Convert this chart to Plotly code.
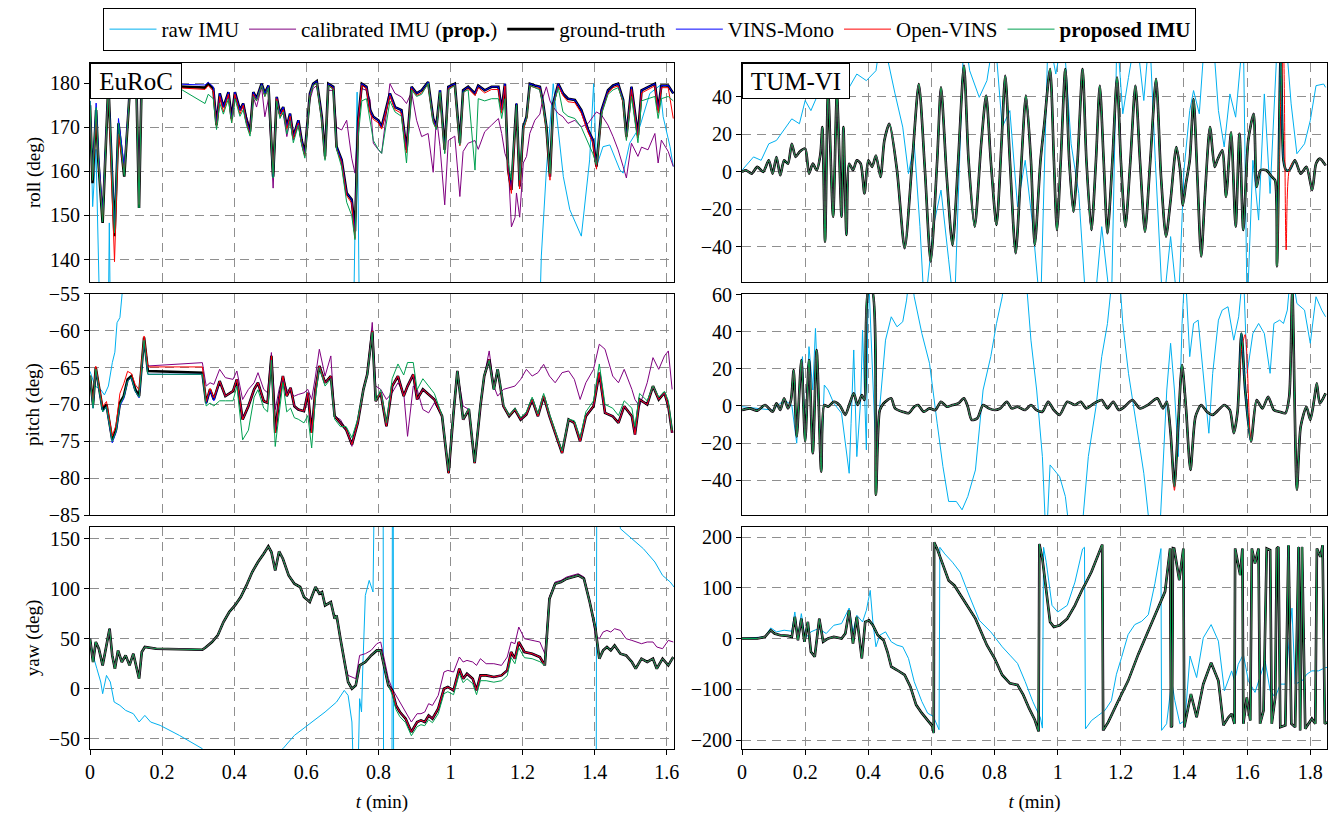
import plotly.graph_objects as go

# ---------------- EuRoC roll ----------------
t_roll_eu = [0, 0.007, 0.017, 0.023, 0.035, 0.051, 0.068, 0.079, 0.095, 0.111,
             0.129, 0.136, 0.143, 0.152, 0.2, 0.245, 0.319, 0.328, 0.342, 0.351,
             0.360, 0.370, 0.384, 0.393, 0.402, 0.416, 0.425, 0.434, 0.444, 0.453,
             0.462, 0.476, 0.485, 0.495, 0.508, 0.518, 0.527, 0.536, 0.546, 0.555,
             0.564, 0.578, 0.587, 0.596, 0.610, 0.619, 0.629, 0.643, 0.652, 0.661,
             0.675, 0.684, 0.698, 0.712, 0.726, 0.735, 0.744, 0.754, 0.767, 0.777,
             0.786, 0.800, 0.809, 0.832, 0.846, 0.864, 0.878, 0.892, 0.906, 0.920,
             0.938, 0.952, 0.961, 0.971, 0.984, 0.994, 1.012, 1.026, 1.035, 1.049,
             1.068, 1.077, 1.095, 1.114, 1.133, 1.142, 1.151, 1.160, 1.169, 1.179,
             1.183, 1.192, 1.202, 1.211, 1.220, 1.234, 1.248, 1.257, 1.266, 1.276,
             1.285, 1.299, 1.312, 1.326, 1.345, 1.363, 1.382, 1.395, 1.405, 1.419,
             1.437, 1.451, 1.465, 1.479, 1.488, 1.502, 1.520, 1.530, 1.548, 1.567,
             1.576, 1.585, 1.604, 1.618]
gt_roll_eu = [175, 157.3, 173.9, 162.6, 148.3, 179.9, 145.3, 170.9, 158.8, 179.2,
              178.4, 151.7, 179.5, 178.8, 179.4, 179.3, 179.0, 179.9, 178.8, 170.5,
              177.7, 174.6, 178.0, 172.0, 178.0, 173.9, 175.4, 171.6, 169.0, 178.0,
              176.5, 179.9, 177.7, 179.5, 158.8, 176.9, 173.1, 174.6, 170.1, 173.1,
              167.9, 171.6, 167.1, 164.1, 177.7, 179.9, 180.5, 172.4, 163.4, 179.9,
              179.2, 165.6, 162.6, 155.1, 153.6, 146.4, 171.6, 179.9, 179.2, 173.9,
              172.4, 171.6, 170.1, 177.7, 174.6, 173.9, 164.9, 179.2, 177.7, 178.4,
              180.3, 172.0, 170.1, 178.4, 164.9, 179.2, 179.9, 166.4, 178.4, 179.2,
              177.7, 179.5, 178.4, 179.2, 179.2, 173.9, 179.9, 160.3, 155.8, 170.1,
              175.4, 156.6, 170.1, 172.4, 179.9, 179.5, 179.2, 175.4, 170.1, 158.8,
              175.4, 179.9, 177.7, 176.5, 176.2, 173.9, 169.4, 167.1, 161.1, 173.9,
              178.4, 179.5, 179.9, 176.2, 167.9, 179.2, 168.2, 178.4, 179.2, 179.9,
              173.9, 179.5, 179.5, 177.7]
vins_roll_eu = [176, 159, 175.5, 164.5, 150.5, 179.9, 147, 172, 161, 179.5,
                178.8, 153, 179.8, 179.2, 179.8, 179.8, 179.6, 180.2, 179.2, 171] + gt_roll_eu[20:]
ov_roll_eu = [174, 158, 172.5, 163, 149, 179.5, 139.5, 168.5, 159.5, 178.8,
              178, 152.5, 179, 178.5, 179.2, 179.0, 178.6, 179.5, 178.2, 170,
              177, 173.5, 177.5, 171, 177.5, 173, 175, 171, 168.5, 177.5,
              176, 179.5, 177, 179, 159.5, 176.5, 172.5, 174, 169.5, 172.5,
              167.5, 171, 166.5, 163.5, 177.2, 179.5, 180, 171.8, 162.8, 179.5,
              178.8, 165, 162, 154.5, 152.8, 144.8, 171, 179.5, 178.8, 173.2,
              171.8, 171, 169.6, 177.2, 174, 173.2, 164.2, 178.8, 177.2, 177.8,
              179.8, 171.4, 169.6, 177.8, 164.2, 178.8, 179.5, 165.8, 177.8, 178.8,
              177.2, 179, 177.8, 178.6, 178.6, 173.2, 179.4, 159.6, 155, 169.5,
              174.8, 156, 169.5, 171.8, 179.4, 179, 178.8, 174.8, 169.5, 158,
              174.8, 179.4, 177.2, 175.8, 175.6, 173.2, 168.8, 166.5, 160.5, 173.2,
              177.8, 179, 179.4, 175.6, 167.2, 178.6, 167.6, 177.8, 178.6, 179.4,
              173.2, 179, 179, 172]
prop_roll_eu = [176, 158, 174.5, 163, 148.5, 179.5, 146, 171, 159, 179,
                178, 151.7, 179, 178.5, 178.5, 179.0, 175.4, 177.5, 176.5, 169.5,
                175.5, 173, 176.5, 171, 176.5, 172.5, 174, 170.5, 168, 177,
                176, 179.5, 177, 179, 158.5, 176, 172, 173.5, 168.5, 171.5,
                166.5, 170.5, 166, 163, 177, 179.5, 180, 171.5, 162.5, 179.5,
                178.5, 165, 161, 153, 150, 144.5, 168, 176, 176.5, 171,
                167, 165, 164.1, 176, 173.5, 172.5, 161.9, 178.5, 177, 177.5,
                180, 171, 169.5, 178, 164, 178.5, 179.5, 166, 178, 178.5,
                160.3, 176.5, 176, 176.5, 176.5, 172, 176.5, 162, 158, 170,
                175, 158, 170, 172, 179.5, 179, 178.5, 175, 170, 159.5,
                175, 179, 173.5, 172.5, 172, 170, 166.5, 164, 161.5, 173,
                177.5, 178.5, 179, 176, 167, 177, 166.5, 176, 176.5, 177,
                172, 176.5, 177, 176]
calib_roll_eu = [175, 157.5, 174, 162.5, 148.5, 179.5, 145.5, 171, 159, 179,
                 178.4, 151.7, 179.5, 178.8, 179.4, 179.3, 179.0, 179.9, 178.8, 170.5,
                 177.7, 174.6, 178.0, 172.0, 178.0, 173.9, 175.4, 172.5, 170, 176.9,
                 174.6, 179.2, 172.4, 176.5, 156.2, 175.4, 172.4, 173.1, 167.9, 171.6,
                 167.1, 170.9, 166.4, 163.4, 176.2, 178.8, 179.5, 172.4, 165, 178.4,
                 178.4, 170, 169.4, 171.6, 163, 159.6, 172, 178.8, 178.4, 176.2,
                 166.4, 164.9, 164.1, 179.9, 177.7, 176.9, 175.4, 178.0, 171.6, 167.9,
                 168.6, 159.8, 172.4, 165.6, 152.4, 167, 168, 154.3, 164.5, 166.4,
                 167, 165, 169, 170.5, 172, 168.6, 164.1, 162, 147.4, 149.5,
                 155.1, 149.6, 161.9, 163.4, 168.6, 171.6, 173, 176.9, 179.2, 176,
                 174.6, 173.1, 172.4, 170.9, 171.6, 170.1, 170.9, 172.4, 173.5, 172.8,
                 170.5, 167.9, 164.9, 161.1, 158.5, 166.4, 163.4, 165.5, 164.9, 168.6,
                 161.9, 167.1, 164.5, 161.1]
t_raw_roll_eu = [0, 0.0074, 0.0166, 0.029, 0.05, 0.0536, 0.0573, 0.73, 0.741, 0.748,
                 1.245, 1.252, 1.266, 1.285, 1.304, 1.313, 1.331, 1.363, 1.386, 1.397,
                 1.405, 1.423, 1.442, 1.470, 1.479, 1.497, 1.525, 1.553, 1.581, 1.590,
                 1.609, 1.618]
raw_roll_eu = [176, 152, 165, 120, 120, 148.3, 120, 120, 178, 120,
               120, 140.8, 160.3, 179.9, 166.4, 158.8, 151.3, 145.3, 162.6, 179.9,
               161.1, 165.6, 166, 160.3, 159.6, 166.4, 170.1, 177.7, 179.5, 172.4,
               165.6, 161.1]

# ---------------- EuRoC pitch ----------------
t_pitch_eu = [0, 0.0085, 0.016, 0.0245, 0.0351, 0.0457, 0.0617, 0.0723, 0.083, 0.0936,
              0.1043, 0.1149, 0.1255, 0.1362, 0.15, 0.1606, 0.3117, 0.3223, 0.333, 0.3436,
              0.3596, 0.3755, 0.3968, 0.4074, 0.4234, 0.4394, 0.4553, 0.466, 0.4819, 0.4926,
              0.5032, 0.5138, 0.5245, 0.5351, 0.5457, 0.5564, 0.567, 0.5777, 0.5936, 0.6043,
              0.6149, 0.6255, 0.6362, 0.6521, 0.6681, 0.6787, 0.6947, 0.7106, 0.7266, 0.7426,
              0.7585, 0.7691, 0.783, 0.7926, 0.8064, 0.8223, 0.8383, 0.8543, 0.8702, 0.8809,
              0.8968, 0.9074, 0.9234, 0.9394, 0.9553, 0.9766, 0.9947, 1.0085, 1.0191, 1.0351,
              1.0511, 1.067, 1.083, 1.0936, 1.1074, 1.1202, 1.1309, 1.1468, 1.1628, 1.1787,
              1.1947, 1.2106, 1.2266, 1.2426, 1.2585, 1.2745, 1.2904, 1.3096, 1.3277, 1.3436,
              1.3596, 1.3755, 1.3968, 1.4128, 1.4287, 1.45, 1.466, 1.4819, 1.5032, 1.5117,
              1.5245, 1.5457, 1.5617, 1.5777, 1.5936, 1.6043, 1.6149]
gt_pitch_eu = [-66.14, -70, -65, -67.5, -70.68, -70, -74.77, -73.41, -69.77, -68.86,
               -66.59, -66.14, -67.95, -68.86, -60.91, -65.45, -65.68, -69.77, -67.95, -69.32,
               -66.82, -68.86, -68.18, -66.59, -72.05, -70.23, -67.95, -67.05, -69.55, -69.77,
               -63.41, -73.86, -69.32, -66.14, -68.86, -67.73, -70.23, -70.68, -70.91, -68.41,
               -73.86, -67.95, -64.77, -67.05, -66.14, -71.59, -72.5, -73.41, -75.45, -72.5,
               -67.95, -65.91, -60, -69.55, -68.41, -72.95, -67.5, -66.14, -68.86, -67.5,
               -65.91, -69.32, -67.95, -68.64, -69.32, -71.59, -79.32, -71.14, -65.45, -72.05,
               -70.68, -77.95, -70.23, -66.14, -63.86, -67.95, -65.23, -70.23, -71.59, -70.68,
               -72.05, -71.36, -69.32, -71.59, -68.86, -71.59, -73.86, -76.59, -72.05, -72.5,
               -75, -71.59, -70.23, -65.68, -71.14, -71.59, -72.5, -70.23, -71.59, -74.09,
               -69.32, -70, -67.5, -69.32, -68.41, -70.23, -73.86]
vins_pitch_eu = [-66.3, -70.5, -65.2, -67.8, -71, -70.3, -75.2, -73.8, -70.2, -69.2,
                 -66.8, -66.4, -68.2, -69.1, -61.2, -65.9, -65.9, -69.9, -68.1, -69.5] + gt_pitch_eu[20:]
ov_pitch_eu = [-66, -69.8, -64.8, -67.2, -70.3, -69.6, -74.3, -72.8, -68.5, -67.2,
               -65.5, -65.8, -67.3, -68, -60.7, -64.9, -64.9, -69.6, -67.8, -69.1] + gt_pitch_eu[20:]
prop_pitch_eu = [-66, -70.5, -65.2, -67.7, -71, -70.3, -75, -73.6, -70, -69,
                 -66.8, -66.3, -68.2, -69, -61.3, -65.9, -65.9, -70.2, -69.8, -70.2,
                 -69.5, -69.5, -69.5, -67.5, -74.8, -73.5, -69, -68, -70.5, -71,
                 -64, -75.7, -71, -67, -71, -70.5, -71.8, -72, -72.5, -71.5,
                 -75.9, -69, -65, -67.5, -66.5, -72, -73, -73, -74.5, -72,
                 -68, -66, -60.2, -69.5, -68, -72.5, -66.5, -64.5, -66, -64.3,
                 -64.3, -68, -66.5, -67.5, -68.5, -71.5, -79, -71, -65.5, -72,
                 -70.5, -77.8, -70, -66, -64, -68, -65.2, -70, -71.5, -70.5,
                 -71.8, -71, -69, -71.3, -68.5, -71.3, -73.5, -76.3, -72, -72.2,
                 -74.5, -71, -69.5, -64.5, -70, -70.5, -71.5, -69.5, -70.5, -73,
                 -68.5, -69.5, -67.5, -69, -68.2, -69.5, -73.5]
calib_pitch_eu = [-66.14, -70, -65, -67.5, -70.68, -70, -74.77, -73.41, -69.77, -68.86,
                  -66.59, -66.14, -67.95, -68.86, -60.91, -64.77, -64.32, -67.5, -67.05, -67.27,
                  -65.23, -66.36, -66.59, -65.45, -69.32, -67.95, -67.05, -65.68, -67.95, -68.41,
                  -62.95, -70.68, -67.95, -66.14, -67.95, -68.41, -68.86, -68.64, -68.41, -67.95,
                  -69.32, -66.14, -62.5, -66.14, -63.41, -71.59, -72.05, -73.41, -75.68, -72.27,
                  -67.95, -65.91, -58.86, -67.5, -67.95, -69.32, -68.41, -67.05, -68.41, -74.32,
                  -67.5, -67.95, -70.68, -71.14, -69.77, -71.59, -78.86, -70.68, -65.68, -70.23,
                  -70.68, -77.5, -69.77, -66.14, -62.73, -67.5, -68.86, -67.95, -67.73, -67.5,
                  -66.59, -65.23, -66.14, -65.68, -64.55, -66.14, -67.05, -65.68, -65.45, -66.59,
                  -69.32, -67.05, -65.23, -61.82, -62.5, -66.14, -67.05, -65.23, -67.95, -69.32,
                  -70.23, -67.05, -63.64, -65.23, -63.41, -62.73, -67.95]
t_raw_pitch_eu = [0, 0.014, 0.030, 0.040, 0.051, 0.062, 0.069, 0.075, 0.083, 0.090, 0.10, 1.62]
raw_pitch_eu = [-65.5, -67.5, -68, -68.7, -67.5, -64.3, -62.9, -58.9, -58.2, -54.5, -40, -40]

# ---------------- EuRoC yaw ----------------
t_yaw_eu = [0, 0.0085, 0.016, 0.0245, 0.0351, 0.0436, 0.0543, 0.0617, 0.0691, 0.0777,
            0.0883, 0.0989, 0.1096, 0.1202, 0.1309, 0.1362, 0.1436, 0.1521, 0.184, 0.3117,
            0.3223, 0.3383, 0.3543, 0.3702, 0.3862, 0.4021, 0.4181, 0.434, 0.45, 0.466,
            0.4819, 0.4947, 0.5032, 0.5138, 0.5245, 0.5351, 0.5511, 0.567, 0.583, 0.5936,
            0.6096, 0.6255, 0.6362, 0.6436, 0.6521, 0.6681, 0.6787, 0.684, 0.6947, 0.7053,
            0.716, 0.7266, 0.7372, 0.7479, 0.7638, 0.7798, 0.7957, 0.8064, 0.817, 0.8277,
            0.8383, 0.8489, 0.8596, 0.8755, 0.8915, 0.9074, 0.9181, 0.9287, 0.9394, 0.95,
            0.966, 0.9819, 0.9926, 1.0085, 1.0245, 1.0351, 1.0457, 1.0617, 1.0723, 1.083,
            1.0989, 1.1202, 1.1415, 1.1574, 1.1681, 1.1787, 1.1894, 1.2053, 1.2266, 1.2479,
            1.2617, 1.2745, 1.2904, 1.3064, 1.3223, 1.3383, 1.3543, 1.3702, 1.3862, 1.4021,
            1.4128, 1.4234, 1.434, 1.4447, 1.4553, 1.4713, 1.4872, 1.5032, 1.5138, 1.5298,
            1.5457, 1.5617, 1.5723, 1.5883, 1.6043, 1.6181]
gt_yaw_eu = [50, 26.7, 46.7, 40, 23.3, 40, 60, 33.3, 20, 38.3,
             26.7, 33.3, 23.3, 35, 20, 10, 36.7, 41.7, 40, 39,
             41.7, 46.7, 53.3, 66.7, 76.7, 83.3, 91.7, 103.3, 116.7, 126.7,
             135, 142.3, 136.7, 118.3, 137.3, 130, 113.3, 105, 101.7, 91.7,
             86.7, 101.7, 95, 96.7, 83.3, 86.7, 70, 73.3, 50, 26.7,
             6.7, 0, 3.3, 23.3, 26.7, 33.3, 38.3, 38.3, 20, 3.3,
             -1.7, -16.7, -23.3, -30, -43.3, -33.3, -31.7, -33.3, -26.7, -30,
             -20, 0, 1.7, -1.7, 20, 10, 15, 10, -1.7, 13.3,
             13.3, 11.7, 13.3, 18.3, 36.7, 30, 46.7, 36.7, 35, 31.7,
             23.3, 90, 105, 106.7, 110, 111.7, 113.3, 110, 86.7, 60,
             30, 38.3, 41.7, 38.3, 43.3, 35, 33.3, 26.7, 20, 30,
             26.7, 30, 20, 30, 23.3, 31.7]
vins_yaw_eu = list(gt_yaw_eu)
ov_yaw_eu = list(gt_yaw_eu)
prop_yaw_eu = gt_yaw_eu[:60] + [-6, -21, -28, -34, -47, -38, -36, -37, -31, -34,
                                -25, -5, -3, -6, 15, 6, 10, 5, -6, 8,
                                8, 6.5, 8, 13, 31, 25, 41, 31, 30, 27] + gt_yaw_eu[90:]
calib_yaw_eu = gt_yaw_eu[:50] + [13.3, 11.7, 10, 33.3, 35, 38.3, 45, 46.7, 26.7, 10,
                                 0, -6.7, -13.3, -23.3, -33.3, -25, -25, -23.3, -15, -16.7,
                                 -6.7, 16.7, 18.3, 16.7, 31.7, 26.7, 28.3, 26.7, 23.3, 30,
                                 25, 25, 23.3, 31.7, 46.7, 45, 61.7, 50, 48.3, 46.7,
                                 35, 91.7, 106.7, 108.3, 111.7, 113.3, 115, 111.7, 88.3, 53.3,
                                 50, 56.7, 58.3, 56.7, 60, 58.3, 50, 48.3, 46.7, 45,
                                 46.7, 46.7, 41.7, 40, 48.3, 46.7]
t_raw_yaw_eu = [0, 0.0085, 0.0191, 0.0298, 0.0351, 0.0457, 0.0564, 0.067, 0.083, 0.0989,
                0.1202, 0.1362, 0.1521, 0.1681, 0.1947, 0.2479, 0.3117, 0.3968, 0.5351, 0.567,
                0.6096, 0.6521, 0.684, 0.7053, 0.716, 0.7266, 0.7319, 0.7426, 0.7479, 0.7532,
                0.7564, 0.7638, 0.7745, 0.7851, 0.7904, 0.813, 0.8145, 0.8375, 0.839, 0.841,
                0.8425, 1.404, 1.406, 1.45, 1.4713, 1.5032, 1.5351, 1.567, 1.5883, 1.6096,
                1.62]
raw_yaw_eu = [50, 33.3, 20, 6.7, -5, 13.3, 6.7, -13.3, -16.7, -21.7,
              -25, -33.3, -26.7, -33.3, -36.7, -46.7, -60, -100, -60, -46.7,
              -35, -23.3, -13.3, -1.7, -6.7, -33.3, -100, -100, -10, -23.3,
              16.7, 93.3, 108.3, 96.7, 250, 250, -150, -150, 250, 250,
              -150, -150, 250, 250, 160, 150, 140, 126.7, 113.3, 106.7,
              101.7]

# ---------------- TUM-VI roll ----------------
t_roll_tum = [0, 0.0121, 0.0303, 0.0485, 0.0667, 0.0848, 0.097, 0.1091, 0.1212, 0.1333,
              0.1455, 0.1576, 0.1697, 0.1818, 0.2, 0.2121, 0.2242, 0.2364, 0.2485, 0.2545,
              0.263, 0.2727, 0.2885, 0.3006, 0.3152, 0.3212, 0.3309, 0.3394, 0.3515, 0.3636,
              0.3758, 0.3879, 0.4, 0.4121, 0.4242, 0.4388, 0.4509, 0.4667, 0.4909, 0.5152,
              0.5394, 0.56, 0.5794, 0.5976, 0.6182, 0.6303, 0.6485, 0.6667, 0.6848, 0.703,
              0.7176, 0.737, 0.7576, 0.7733, 0.7879, 0.8061, 0.8218, 0.8339, 0.8485, 0.8667,
              0.8824, 0.8994, 0.9152, 0.9273, 0.9455, 0.9576, 0.9758, 0.9879, 0.9976, 1.0097,
              1.0242, 1.0364, 1.0497, 1.063, 1.0788, 1.0909, 1.1067, 1.1212, 1.1333, 1.1455,
              1.1576, 1.1733, 1.1879, 1.2, 1.2145, 1.2303, 1.2461, 1.2606, 1.2764, 1.2933,
              1.3115, 1.3273, 1.343, 1.3576, 1.3758, 1.3879, 1.3964, 1.4061, 1.4182, 1.4303,
              1.4424, 1.4545, 1.4667, 1.4824, 1.497, 1.5055, 1.5212, 1.5333, 1.5491, 1.5636,
              1.5758, 1.5879, 1.6036, 1.6206, 1.6303, 1.6424, 1.6606, 1.6788, 1.6885, 1.6945,
              1.7067, 1.7152, 1.7236, 1.7333, 1.7515, 1.7697, 1.7879, 1.8061, 1.8182, 1.8303,
              1.8485]
gt_roll_tum = [0, 0.9, -0.9, 2.7, 0, 6.2, -0.9, 8, -1.8, 6.2,
               4.4, 15, 8, 10.6, 12.4, -0.9, 4.4, 0.9, 9.7, 23.9,
               -37.2, 43.4, -23.9, 41.6, -23.9, 23.9, -33.6, 4.4, 0.9, 6.2,
               4.4, -11.5, 6.2, 2.7, 8.8, -2.7, 16.8, 25.7, 0.9, -40.7,
               6.2, 46.9, 0.9, -47.8, 6.2, 45.1, -2.7, -38.9, 6.2, 56.6,
               6.2, -29.2, 15, 40.7, 6.2, -28.3, 15, 51.3, 6.2, -43.4,
               -2.7, 40.7, 6.2, -38.9, 6.2, 25.7, 54.9, 6.2, -31, 6.2,
               54.9, 6.2, -21.2, 6.2, 54.9, 6.2, -31, 6.2, 46, 6.2,
               -32.7, 6.2, 50.4, 6.2, -29.2, 6.2, 46, 6.2, -31.9, 6.2,
               49.6, -2.7, -34.5, -15, 13.3, 0.9, -17.7, -6.2, 6.2, 38.9,
               -2.7, -45.1, -11.5, 23.9, 2.7, 6.2, 11.5, -13.3, 21.2, -29.2,
               20.4, -31, 16.8, 31, -8, 0.9, 0.9, -2.7, -4.4, -50.4,
               65, 6.2, 0.9, 0.9, 6.2, -0.9, 2.7, -9.7, 4.4, 7.1,
               3.5]
vins_roll_tum = list(gt_roll_tum)
ov_roll_tum = gt_roll_tum[:120] + [40, 65, -41.6] + gt_roll_tum[123:]
prop_roll_tum = list(gt_roll_tum)
t_raw_roll_tum = [0, 0.0364, 0.0606, 0.0848, 0.1091, 0.1273, 0.1576, 0.1818, 0.2, 0.2182,
                  0.2364, 0.2545, 0.2788, 0.303, 0.3394, 0.3636, 0.3939, 0.4242, 0.4424, 0.4848,
                  0.5091, 0.5273, 0.5455, 0.5636, 0.5782, 0.6061, 0.6303, 0.6545, 0.6727, 0.703,
                  0.7212, 0.7515, 0.7758, 0.8, 0.8242, 0.8485, 0.8727, 0.897, 0.9212, 0.9455,
                  0.9697, 0.9939, 1.0182, 1.0424, 1.0667, 1.0909, 1.1152, 1.1394, 1.1697, 1.1879,
                  1.2061, 1.2242, 1.2485, 1.2727, 1.2909, 1.3091, 1.3333, 1.3576, 1.3818, 1.4,
                  1.4182, 1.4303, 1.4485, 1.4667, 1.4909, 1.5091, 1.5273, 1.5455, 1.5636, 1.5879,
                  1.6, 1.6182, 1.6364, 1.6545, 1.6727, 1.697, 1.7212, 1.7394, 1.7576, 1.7818,
                  1.8, 1.8182, 1.8424, 1.8485]
raw_roll_tum = [0.9, 8, 6.2, 15, 16.8, 21.2, 28.3, 25.7, 38.1, 32.7,
                39.8, 48.7, 54, 75, 45.1, 52.2, 48.7, 54, 75, 41.6,
                23.9, -0.9, 15, -29.2, -75, -29.2, -9.7, -46.9, -75, 75,
                54, 39.8, 48.7, 75, 23.9, 32.7, -18.6, 6.2, -29.2, -75,
                75, 52.2, 75, 15, -11.5, -75, -75, -29.2, -75, 75,
                31, 50.4, 75, 38.1, 75, 6.2, -75, -34.5, -75, 0.9,
                32.7, 43.4, 31, 75, 75, 32.7, 13.3, 41.6, 29.2, 75,
                -75, 6.2, -25.7, 41.6, -11.5, 75, 75, 36.3, 9.7, 15,
                27.4, 46, 46.9, 45.1]

# ---------------- TUM-VI pitch ----------------
t_pitch_tum = [0, 0.0242, 0.0485, 0.0727, 0.097, 0.1091, 0.1212, 0.1333, 0.1455, 0.1552,
               0.1636, 0.1733, 0.1879, 0.2, 0.2121, 0.2242, 0.2364, 0.2509, 0.2606, 0.2727,
               0.2909, 0.3091, 0.3273, 0.3394, 0.3539, 0.3661, 0.3794, 0.3879, 0.4, 0.4121,
               0.4242, 0.4364, 0.4485, 0.4606, 0.4727, 0.4848, 0.5091, 0.5273, 0.5455, 0.5576,
               0.5758, 0.5939, 0.6121, 0.6303, 0.6485, 0.6667, 0.6848, 0.703, 0.7152, 0.7273,
               0.7455, 0.7636, 0.7818, 0.8, 0.8182, 0.8388, 0.8545, 0.8727, 0.897, 0.9152,
               0.9333, 0.9515, 0.9697, 0.9879, 1.0061, 1.0303, 1.0545, 1.0727, 1.0909, 1.1152,
               1.1394, 1.1576, 1.1758, 1.1939, 1.2121, 1.2364, 1.2606, 1.2848, 1.3152, 1.3333,
               1.3455, 1.3576, 1.3697, 1.3818, 1.3939, 1.4061, 1.4206, 1.4364, 1.4545, 1.4727,
               1.4909, 1.5091, 1.5273, 1.5455, 1.5576, 1.5697, 1.5818, 1.5939, 1.6121, 1.6303,
               1.6485, 1.6667, 1.6848, 1.703, 1.7212, 1.7333, 1.743, 1.7576, 1.7697, 1.7879,
               1.8, 1.8121, 1.8206, 1.8303, 1.8485]
gt_pitch_tum = [-2.2, -1.3, -2.5, 0.5, -3.1, 1.4, -2.2, 4.1, -1.3, 3.2,
                19.4, -16.5, 24.8, -19.2, 24.8, -25.5, 30.2, -35.4, 0.5, -0.4,
                2.3, 0.5, -4.8, 0.5, 6.8, 0.5, 5.9, 3.2, 62, 62,
                -47.9, -2.2, 1.4, 3.2, 4.1, -1.3, -3.1, -3.9, -0.4, 0.5,
                -3.1, -1.3, -2.2, 2.3, -0.4, 0.5, 1.4, 4.1, -0.4, -7.5,
                -6.6, 0.5, -1.3, -2.2, -1.3, 2.3, -1.3, -0.4, -2.2, 0.5,
                -2.2, -3.1, 2.3, -2.2, -4.8, 2.3, 0.5, 2.3, -1.3, 1.4,
                3.2, -1.3, 2.3, -2.2, -0.4, 3.2, -1.3, 0.5, 4.1, -1.3,
                2.3, -14.7, -43.4, -9.3, 22.1, -0.4, -34.5, -5.7, 0.5, -3.1,
                -4.8, -2.2, 0.5, -2.2, -14.7, -3.1, 39.1, 8.6, -19.2, 3.2,
                -1.3, 5, -2.2, -3.1, -3.9, 5, 62, -45.2, -11.1, -0.4,
                -7.5, 3.2, 12.2, 1.4, 6.8]
vins_pitch_tum = list(gt_pitch_tum)
ov_pitch_tum = gt_pitch_tum[:82] + [-45.5] + gt_pitch_tum[83:96] + [30, 38.5] + gt_pitch_tum[98:]
prop_pitch_tum = list(gt_pitch_tum)
t_raw_pitch_tum = [0, 0.097, 0.1333, 0.1576, 0.1733, 0.1818, 0.1915, 0.2, 0.2121, 0.2242,
                   0.2327, 0.2424, 0.2521, 0.2606, 0.2727, 0.2909, 0.3152, 0.3394, 0.3455, 0.3539,
                   0.3636, 0.3758, 0.3818, 0.3939, 0.4, 0.4121, 0.4242, 0.4364, 0.4545, 0.4727,
                   0.4909, 0.5091, 0.5212, 0.5333, 0.5455, 0.5697, 0.5939, 0.6182, 0.6364, 0.6545,
                   0.6788, 0.697, 0.7152, 0.7394, 0.7636, 0.7879, 0.8061, 0.8242, 0.8364, 0.897,
                   0.9152, 0.9333, 0.9515, 0.9636, 0.9758, 1.0061, 1.0242, 1.0424, 1.0727, 1.097,
                   1.1212, 1.1394, 1.1576, 1.1758, 1.1939, 1.2061, 1.2242, 1.2485, 1.2727, 1.297,
                   1.3212, 1.3455, 1.3576, 1.3697, 1.3818, 1.3939, 1.4036, 1.4182, 1.4303, 1.4448,
                   1.4606, 1.4788, 1.4909, 1.5091, 1.5212, 1.5394, 1.5576, 1.5733, 1.5879, 1.6,
                   1.6182, 1.6364, 1.6545, 1.6727, 1.6848, 1.703, 1.7152, 1.7273, 1.7394, 1.7576,
                   1.7818, 1.8, 1.8182, 1.8364, 1.8485]
raw_pitch_tum = [-0.4, -2.2, 3.2, 0.5, -20.1, 8.6, 26.6, -16.5, 32, 8.6,
                 41.8, -0.4, -27.3, 11.3, 8.6, 1.4, -3.9, -36.3, -9.3, 30.2,
                 -27.3, 3.2, 40.9, -23.7, 75, 23, -27.3, -0.4, 35.5, 48.1,
                 42.7, 45.4, 57.1, 75, 58.9, 39.1, 23, -9.3, -32.7, -51.5,
                 -51.5, -56, -48.8, -34.5, 8.6, 26.6, 44.5, 58.9, 75, 75,
                 35.5, 8.6, -27.3, -75, -31.8, -38.1, -48.8, -75, -75, -27.3,
                 -0.4, 26.6, 44.5, 75, 75, 44.5, 17.6, -9.3, -36.3, -75,
                 -75, 8.6, 33.8, 8.6, -27.3, 44.5, 75, 26.6, 44.5, 46.3,
                 17.6, -14.7, 17.6, 46.3, 51.7, 53.5, 35.5, 48.1, 75, 17.6,
                 39.1, 44.5, 39.1, 17.6, 44.5, 46.3, 44.5, 51.7, 75, 55.3,
                 51.7, 33.8, 58.9, 51.7, 48.1]

# ---------------- TUM-VI yaw ----------------
t_yaw_tum = [0, 0.0485, 0.0727, 0.0909, 0.103, 0.1212, 0.1455, 0.1576, 0.1673, 0.177,
             0.1879, 0.1976, 0.2085, 0.2182, 0.2303, 0.2448, 0.257, 0.2727, 0.2909, 0.3152,
             0.3273, 0.3394, 0.3515, 0.3636, 0.3794, 0.3903, 0.4024, 0.4145, 0.4303, 0.4485,
             0.4606, 0.4727, 0.4909, 0.5152, 0.5333, 0.5515, 0.5697, 0.5879, 0.6036, 0.6073,
             0.6085, 0.6182, 0.6364, 0.6545, 0.6727, 0.703, 0.7394, 0.7758, 0.8, 0.8242,
             0.8485, 0.8727, 0.8909, 0.9091, 0.9273, 0.9394, 0.9418, 0.9515, 0.9636, 0.9758,
             0.9879, 1.0061, 1.0303, 1.0545, 1.0788, 1.086, 1.107, 1.128, 1.141, 1.144,
             1.160, 1.192, 1.223, 1.255, 1.287, 1.319, 1.340, 1.356, 1.359, 1.362,
             1.365, 1.369, 1.385, 1.398, 1.401, 1.403, 1.422, 1.440, 1.461, 1.486,
             1.509, 1.525, 1.541, 1.551, 1.560, 1.562, 1.578, 1.585, 1.588, 1.599,
             1.610, 1.615, 1.625, 1.636, 1.641, 1.652, 1.662, 1.673, 1.678, 1.689,
             1.694, 1.699, 1.705, 1.721, 1.731, 1.740, 1.752, 1.763, 1.768, 1.774,
             1.784, 1.805, 1.816, 1.821, 1.832, 1.839, 1.846, 1.853]
gt_yaw_tum = [0, 0, 3.3, 16.3, 9.8, 6.5, 5.2, 3.3, 42.5, -3.3,
              39.2, -6.5, 32.7, -26.1, -35.9, 39.2, -6.5, 0, 3.3, 0,
              9.8, 55.6, -9.8, 42.5, -39.2, 32.7, 35.9, 26.1, 6.5, -3.3,
              -26.1, -55.6, -62.1, -71.9, -94.8, -130.7, -147.1, -160.1, -173.2, -186.3,
              189.5, 176.5, 143.8, 114.4, 104.6, 75.2, 39.2, -13.1, -39.2, -71.9,
              -88.2, -91.5, -111.1, -137.3, -160.1, -183, 186.3, 156.9, 98, 32.7,
              22.9, 26.1, 39.2, 65.4, 98, 105.5, 131.6, 164, 185, -181,
              -164.8, -122.5, -83.4, -31.3, 14.3, 60, 92.5, 177.2, -175, -172,
              178, 177.2, 115, 177.2, -175, -168, -109.4, -155, -90, -47.6,
              -83.4, -171, -155, -148.5, -168, 177.2, 125, 177.2, -168, -116,
              -161.6, 177.2, 148, 177.2, -168, -142, 177.2, 174, -168, -116,
              177.2, 180.5, -174.6, -171, 183.7, -168, -174.6, 180.5, -181, 180.5,
              -177.9, -158, -168, 177.2, 161, 183.7, -168, -164.8]
vins_yaw_tum = list(gt_yaw_tum)
ov_yaw_tum = list(gt_yaw_tum)
prop_yaw_tum = list(gt_yaw_tum)
t_raw_yaw_tum = [0, 0.0727, 0.0909, 0.1091, 0.1333, 0.1576, 0.1673, 0.177, 0.1879, 0.2,
                 0.2182, 0.2424, 0.2667, 0.2909, 0.3152, 0.3394, 0.3515, 0.3636, 0.3818, 0.3939,
                 0.4061, 0.4145, 0.4242, 0.4364, 0.4545, 0.4727, 0.4909, 0.5091, 0.5273, 0.5455,
                 0.5697, 0.5879, 0.6061, 0.6242, 0.6267, 0.6424, 0.6667, 0.6909, 0.7152, 0.7515,
                 0.7879, 0.8242, 0.8485, 0.8727, 0.897, 0.9212, 0.9455, 0.9515, 0.9552, 0.9636,
                 0.9818, 1.0, 1.0303, 1.0545, 1.0788, 1.0848, 1.088, 1.107, 1.128, 1.149,
                 1.170, 1.186, 1.202, 1.223, 1.244, 1.266, 1.287, 1.308, 1.327, 1.329,
                 1.345, 1.361, 1.371, 1.387, 1.403, 1.419, 1.440, 1.461, 1.486, 1.509,
                 1.528, 1.541, 1.551, 1.560, 1.572, 1.588, 1.604, 1.625, 1.647, 1.657,
                 1.673, 1.689, 1.705, 1.721, 1.742, 1.752, 1.774, 1.789, 1.805, 1.826,
                 1.848, 1.853]
raw_yaw_tum = [0, 3.3, 20.9, 13.1, 16.3, 14.4, 52.3, 3.3, 49, 0,
               13.1, 19.6, 9.8, 26.1, 29.4, 60.1, 13.1, 45.8, 32.7, 55.6,
               94.8, 32.7, -16.3, 6.5, 13.1, -6.5, -13.1, -16.3, -39.2, -85,
               -124.2, -147.1, -153.6, -179.7, 179.7, 166.7, 150.3, 130.7, 91.5, 35.9,
               13.1, -16.3, -32.7, -49, -85, -124.2, -156.9, -176.5, 179.7, 150.3,
               65.4, 52.3, 65.4, 111.1, 176.5, 179.7, -178, -161.6, -151.8, -142,
               -122.5, -70.4, -37.8, 7.8, 27.4, 33.9, 46.9, 108.8, 177.2, -181,
               -168, -83.4, -122.5, -168, -161.6, -34.5, -76.9, 1.3, 27.4, -5.2,
               -102.9, -80.1, -63.8, -83.4, -50.8, -31.3, -83.4, -106.2, -63.8, -44.3,
               -102.9, -116, -89.9, -89.9, 59.9, -89.9, -83.4, -70.4, -63.8, -63.8,
               -57.3, -57]

# ---------------- axes / labels ----------------
x_ticks_eu = [0, 0.2, 0.4, 0.6, 0.8, 1, 1.2, 1.4, 1.6]
x_ticks_tum = [0, 0.2, 0.4, 0.6, 0.8, 1, 1.2, 1.4, 1.6, 1.8]
y_ticks = {1: [140, 150, 160, 170, 180], 2: [-40, -20, 0, 20, 40],
           3: [-85, -80, -75, -70, -65, -60, -55], 4: [-40, -20, 0, 20, 40, 60],
           5: [-50, 0, 50, 100, 150], 6: [-200, -100, 0, 100, 200]}
y_ranges = {1: [134.9, 184.6], 2: [-58.7, 58.1], 3: [-85, -55], 4: [-58.8, 60.4],
            5: [-60.3, 161.7], 6: [-217.7, 219.7]}
x_ranges = {1: [0, 1.62], 2: [0, 1.853]}
y_titles = {1: "roll (deg)", 3: "pitch (deg)", 5: "yaw (deg)"}
series_names = ["raw IMU", "calibrated IMU (<b>prop.</b>)", "ground-truth",
                "VINS-Mono", "Open-VINS", "<b>proposed IMU</b>"]
colors = ["#00b0f0", "#800080", "#000000", "#0000ff", "#ff0000", "#00a050"]
widths = [1.0, 1.0, 2.6, 1.0, 1.0, 1.0]

panels = {
    1: dict(t=t_roll_eu, rt=t_raw_roll_eu, raw=raw_roll_eu, cal=calib_roll_eu, gt=gt_roll_eu,
            vins=vins_roll_eu, ov=ov_roll_eu, prop=prop_roll_eu, shape="linear"),
    2: dict(t=t_roll_tum, rt=t_raw_roll_tum, raw=raw_roll_tum, cal=None, gt=gt_roll_tum,
            vins=vins_roll_tum, ov=ov_roll_tum, prop=prop_roll_tum, shape="spline"),
    3: dict(t=t_pitch_eu, rt=t_raw_pitch_eu, raw=raw_pitch_eu, cal=calib_pitch_eu, gt=gt_pitch_eu,
            vins=vins_pitch_eu, ov=ov_pitch_eu, prop=prop_pitch_eu, shape="linear"),
    4: dict(t=t_pitch_tum, rt=t_raw_pitch_tum, raw=raw_pitch_tum, cal=None, gt=gt_pitch_tum,
            vins=vins_pitch_tum, ov=ov_pitch_tum, prop=prop_pitch_tum, shape="spline"),
    5: dict(t=t_yaw_eu, rt=t_raw_yaw_eu, raw=raw_yaw_eu, cal=calib_yaw_eu, gt=gt_yaw_eu,
            vins=vins_yaw_eu, ov=ov_yaw_eu, prop=prop_yaw_eu, shape="linear"),
    6: dict(t=t_yaw_tum, rt=t_raw_yaw_tum, raw=raw_yaw_tum, cal=None, gt=gt_yaw_tum,
            vins=vins_yaw_tum, ov=ov_yaw_tum, prop=prop_yaw_tum, shape="linear"),
}

FONT = "Liberation Serif"
fig = go.Figure()


def add_line(k, x, y, idx, shape="linear"):
    n = min(len(x), len(y))
    line = dict(color=colors[idx], width=widths[idx], shape=shape)
    if shape == "spline":
        line["smoothing"] = 0.7
    fig.add_trace(go.Scatter(
        x=x[:n], y=y[:n], mode="lines", name=series_names[idx],
        legendgroup=str(idx), showlegend=(k == 1), line=line,
        xaxis="x" if k == 1 else f"x{k}", yaxis="y" if k == 1 else f"y{k}",
        hoverinfo="skip"))


for k in range(1, 7):
    p = panels[k]
    add_line(k, p["rt"], p["raw"], 0)
    if p["cal"] is not None:
        add_line(k, p["t"], p["cal"], 1)
    add_line(k, p["t"], p["gt"], 2, p["shape"])
    add_line(k, p["t"], p["vins"], 3, p["shape"])
    add_line(k, p["t"], p["ov"], 4, p["shape"])
    add_line(k, p["t"], p["prop"], 5, p["shape"])

xdom = {1: [0, 0.4721], 2: [0.5271, 1]}
ydom = {1: [0.6808, 1], 2: [0.3411, 0.6633], 3: [0, 0.3236]}

layout = dict(
    width=1335, height=814,
    margin=dict(l=90, r=8, t=63, b=65, autoexpand=False),
    paper_bgcolor="white", plot_bgcolor="white",
    font=dict(family=FONT, size=20, color="black"),
    showlegend=True,
    legend=dict(orientation="h", x=0.4527, xanchor="center", y=1.0802, yanchor="top",
                bordercolor="black", borderwidth=1, bgcolor="white",
                font=dict(family=FONT, size=21, color="black"), itemwidth=47,
                traceorder="normal"),
)

for k in range(1, 7):
    row = (k - 1) // 2 + 1
    col = (k - 1) % 2 + 1
    xname = "xaxis" if k == 1 else f"xaxis{k}"
    yname = "yaxis" if k == 1 else f"yaxis{k}"
    xt = x_ticks_eu if col == 1 else x_ticks_tum
    common = dict(showline=True, linecolor="black", linewidth=1, mirror=True,
                  showgrid=True, gridcolor="#8f8f8f", griddash="9px,6px", gridwidth=1,
                  zeroline=False, tickcolor="black", ticklen=5, automargin=False,
                  tickfont=dict(family=FONT, size=20, color="black"))
    xa = dict(common, domain=xdom[col], range=x_ranges[col], tickvals=xt,
              ticktext=[("%g" % v) for v in xt],
              anchor="y" if k == 1 else f"y{k}",
              showticklabels=(row == 3), ticks="outside" if row == 3 else "")
    if row == 3:
        xa["title"] = dict(text="<i>t</i> (min)", font=dict(family=FONT, size=19), standoff=12)
    ya = dict(common, domain=ydom[row], range=y_ranges[k], tickvals=y_ticks[k],
              anchor="x" if k == 1 else f"x{k}", ticks="outside")
    if k in y_titles:
        ya["title"] = dict(text=y_titles[k], font=dict(family=FONT, size=19), standoff=4)
    layout[xname] = xa
    layout[yname] = ya

layout["annotations"] = [
    dict(text="EuRoC", xref="x domain", yref="y domain", x=0, y=1, xanchor="left", yanchor="top",
         showarrow=False, font=dict(family=FONT, size=25, color="black"),
         bgcolor="white", bordercolor="black", borderwidth=1, borderpad=1, width=88, height=32),
    dict(text="TUM-VI", xref="x2 domain", yref="y2 domain", x=0, y=1, xanchor="left", yanchor="top",
         showarrow=False, font=dict(family=FONT, size=25, color="black"),
         bgcolor="white", bordercolor="black", borderwidth=1, borderpad=1, width=104, height=32),
]

fig.update_layout(layout)
fig.write_html("out.html", config={"displayModeBar": False, "staticPlot": True})

# remove the browser's default page margin so the figure sits at the window origin
with open("out.html", "r", encoding="utf-8") as fh:
    html = fh.read()
html = html.replace("<head>", "<head><style>html,body{margin:0;padding:0;overflow:hidden;}</style>", 1)
with open("out.html", "w", encoding="utf-8") as fh:
    fh.write(html)
